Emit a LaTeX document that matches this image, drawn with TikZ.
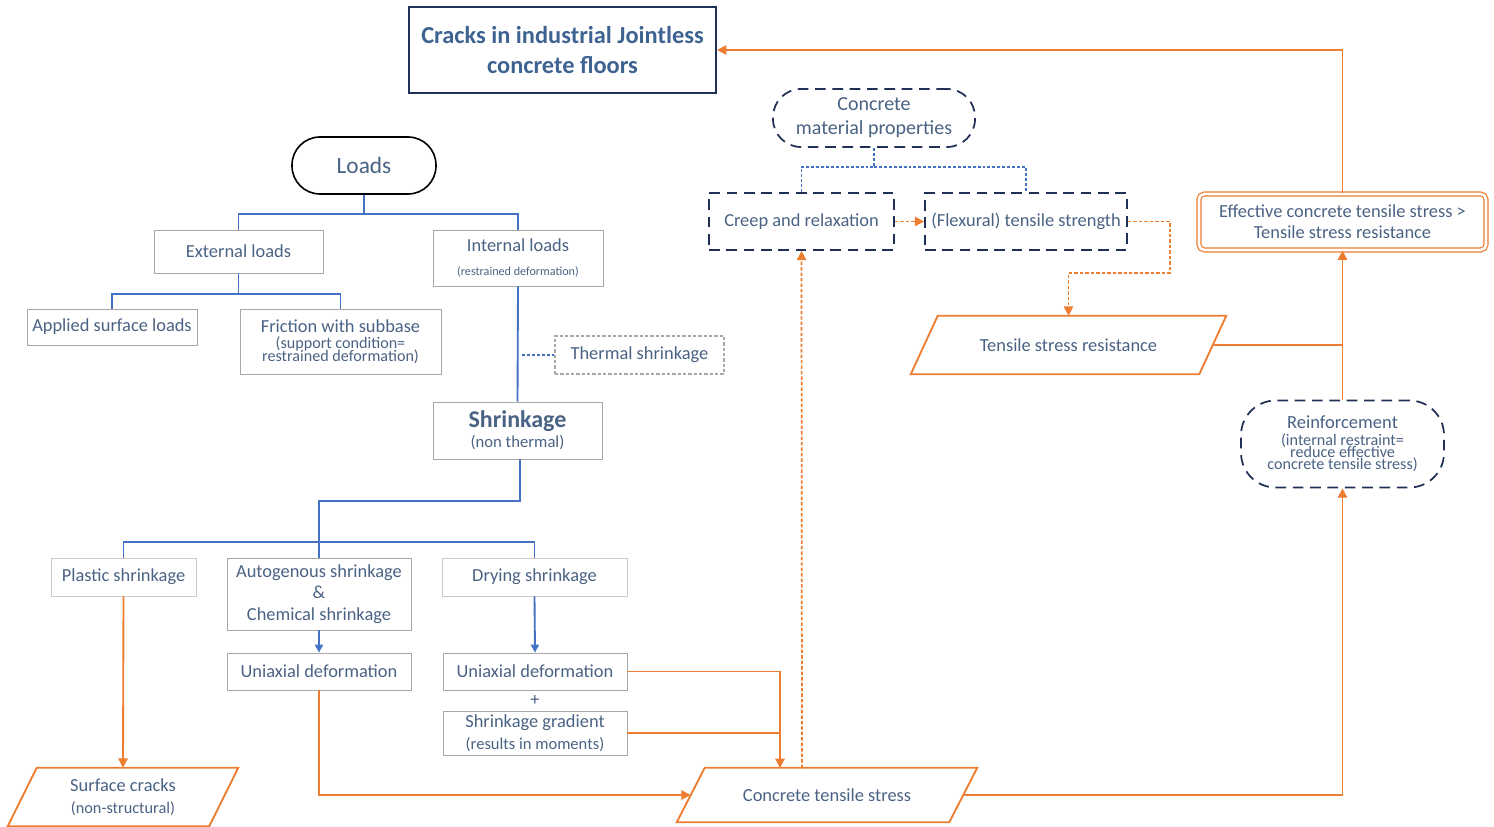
\documentclass[tikz,border=0pt]{standalone}
\usepackage{fontspec}
\setmainfont{Carlito}
\usetikzlibrary{calc,arrows.meta}
\definecolor{txt}{HTML}{4A6283}
\definecolor{ttl}{HTML}{3E6391}
\definecolor{bl}{HTML}{4472C4}
\definecolor{org}{HTML}{ED7D31}
\definecolor{navy}{HTML}{1F2F55}
\definecolor{gry}{HTML}{A8A8A8}
% parallelogram drawn around a node body; #2 = half of the horizontal slant
\newcommand\paral[2]{\draw[orline] ($(#1.north west)+(#2,0)$) -- ($(#1.north east)+(#2,0)$) -- ($(#1.south east)+(-#2,0)$) -- ($(#1.south west)+(-#2,0)$) -- cycle;}
% closely packed lines
\newcommand\tightlines{\lineskiplimit=-20pt\relax\lineskip=0pt\relax}
\begin{document}
\begin{tikzpicture}[x=0.75pt,y=-0.75pt,
  sz/.style 2 args={minimum width=#1*0.75pt,minimum height=#2*0.75pt},
  base/.style={inner sep=0pt,align=center,text=txt,font=\fontsize{13.8}{16.5}\selectfont},
  tight/.style={font=\fontsize{12.1}{9.3}\selectfont\tightlines},
  lbox/.style={base,draw=gry,line width=0.6pt},
  dbox/.style={base,draw=navy,line width=1.3pt,dash pattern=on 8pt off 5pt},
  blueline/.style={draw=bl,line width=1.4pt},
  bluedot/.style={draw=bl,line width=1.3pt,dash pattern=on 2.2pt off 1.5pt},
  barrow/.style={blueline,-{Triangle[length=6pt,width=6pt]}},
  orline/.style={draw=org,line width=1.4pt},
  odot/.style={draw=org,line width=1.3pt,dash pattern=on 2.6pt off 1.5pt},
  oarrow/.style={orline,-{Triangle[length=7pt,width=7pt]}},
  odarrow/.style={odot,-{Triangle[length=7pt,width=7pt]}}]
\useasboundingbox (0,0) rectangle (1494,827);

% ---- title ----
\node[base,draw=navy,line width=1.6pt,sz={307}{86},text=ttl,
  font=\fontsize{18.3}{22.5}\selectfont\bfseries] (title) at (562.5,50)
  {Cracks in industrial Jointless\\concrete floors};

% ---- load tree ----
\node[base,draw=black,line width=1.2pt,rounded corners=21pt,sz={144}{57},
  font=\fontsize{17.5}{20}\selectfont] (loads) at (364,165.5) {Loads};
\node[lbox,sz={169}{43}] (ext) at (238.5,251.5) {External loads};
\node[lbox,sz={170}{56}] (int) at (518,258)
  {Internal loads\\[1pt]{\fontsize{9.1}{10}\selectfont(restrained deformation)}};
\node[lbox,sz={170}{36}] (applied) at (112,327) {Applied surface loads};
\node[lbox,tight,sz={201}{65}] (fric) at (340.5,341.5)
  {{\fontsize{13.8}{9.3}\selectfont Friction with subbase}\\[3pt](support condition=\\restrained deformation)};
\node[base,draw=gry,line width=0.8pt,dash pattern=on 2.5pt off 1.5pt,sz={169}{38}] (therm) at (639.5,355) {Thermal shrinkage};
\node[lbox,sz={169}{57}] (shr) at (517.5,430.5)
  {{\fontsize{18}{18}\selectfont\bfseries Shrinkage}\\[-1.5pt]{\fontsize{12.5}{13}\selectfont(non thermal)}};

\coordinate (j1) at (364,214);
\draw[blueline] (loads.south) -- (j1) -| (ext.north);
\draw[blueline] (j1) -| (int.north);
\coordinate (j2) at (238.5,294);
\draw[blueline] (ext.south) -- (j2) -| (applied.north);
\draw[blueline] (j2) -| (fric.north);
\draw[blueline] (int.south) -- (shr.north);
\coordinate (j3) at (521,355);
\draw[bluedot] (therm.west) -- (j3);

% ---- shrinkage types ----
\node[lbox,draw=gry!60,sz={145}{38}] (plastic) at (123.5,577) {Plastic shrinkage};
\node[lbox,sz={184}{72},font=\fontsize{13.8}{16}\selectfont] (auto) at (319,594)
  {Autogenous shrinkage\\\&\\Chemical shrinkage};
\node[lbox,draw=gry!60,sz={185}{38}] (drying) at (534.5,577) {Drying shrinkage};
\node[lbox,sz={184}{37}] (unil) at (319,671.5) {Uniaxial deformation};
\node[lbox,sz={184}{37}] (unir) at (535,671.5) {Uniaxial deformation};
\node[base] (plus) at (535,700) {+};
\node[lbox,sz={184}{44},font=\fontsize{13.8}{16.5}\selectfont] (grad) at (535,733)
  {Shrinkage gradient\\{\fontsize{12.4}{16.5}\selectfont(results in moments)}};

\coordinate (j4) at (319,501);
\coordinate (j5) at (319,542);
\draw[blueline] (shr.south -| 520,0) |- (j4) -- (auto.north);
\draw[blueline] (plastic.north) |- (j5) -| (drying.north);
\draw[barrow] (auto.south) -- (unil.north);
\draw[barrow] (drying.south) -- (unir.north);

% ---- outcomes ----
\node[base,sz={201}{58},font=\fontsize{13.8}{16.5}\selectfont] (surf) at (123,797)
  {Surface cracks\\{\fontsize{12.2}{16.5}\selectfont(non-structural)}};
\paral{surf}{14.5}
\node[base,sz={272}{54}] (cts) at (827,795) {Concrete tensile stress};
\paral{cts}{14}

\draw[oarrow] (plastic.south) -- (surf.north);
\draw[oarrow] (unil.south) |- (cts.west);
\coordinate (ctsin) at (780,768);
\draw[oarrow] (unir.east) -| (ctsin);
\draw[orline] (grad.east) -- (grad.east -| ctsin);

% ---- material properties ----
\node[base,draw=navy,line width=1.3pt,dash pattern=on 8pt off 5pt,rounded corners=21pt,
  sz={202}{58},font=\fontsize{15}{18}\selectfont] (cmp) at (874,118)
  {Concrete\\material properties};
\node[dbox,sz={185}{57}] (creep) at (801.5,221.5) {Creep and relaxation};
\node[dbox,sz={202}{57}] (flex) at (1026,221.5) {(Flexural) tensile strength};
\coordinate (j6) at (874,167);
\draw[bluedot] (cmp.south) -- (j6) -| (creep.north);
\draw[bluedot] (j6) -| (flex.north);
\draw[odarrow] (creep.east) -- (flex.west);

\node[base,sz={288}{58}] (tsr) at (1068.5,345) {Tensile stress resistance};
\paral{tsr}{13.5}
\coordinate (j7) at (1170,273);
\draw[odarrow] (flex.east) -| (j7) -| (tsr.north);

\coordinate (ctsup) at (802,768);
\draw[odarrow] (ctsup) -- (creep.south);

% ---- right column ----
\node[base,draw=org,double=white,line width=0.9pt,double distance=2pt,rounded corners=4pt,
  sz={287}{56},font=\fontsize{13.8}{16}\selectfont] (eff) at (1342.5,222)
  {Effective concrete tensile stress >\\Tensile stress resistance};
\node[base,tight,draw=navy,line width=1.3pt,dash pattern=on 8pt off 5pt,rounded corners=26pt,
  sz={203}{87}] (reinf) at (1342.5,444)
  {{\fontsize{13.9}{9.3}\selectfont Reinforcement}\\[3pt](internal restraint=\\reduce effective\\concrete tensile stress)};

\draw[oarrow] (cts.east) -| (reinf.south);
\draw[oarrow] (reinf.north) -- (eff.south);
\draw[orline] (tsr.east) -- (tsr.east -| reinf.north);
\draw[oarrow] (eff.north) |- (title.east);
\end{tikzpicture}
\end{document}
